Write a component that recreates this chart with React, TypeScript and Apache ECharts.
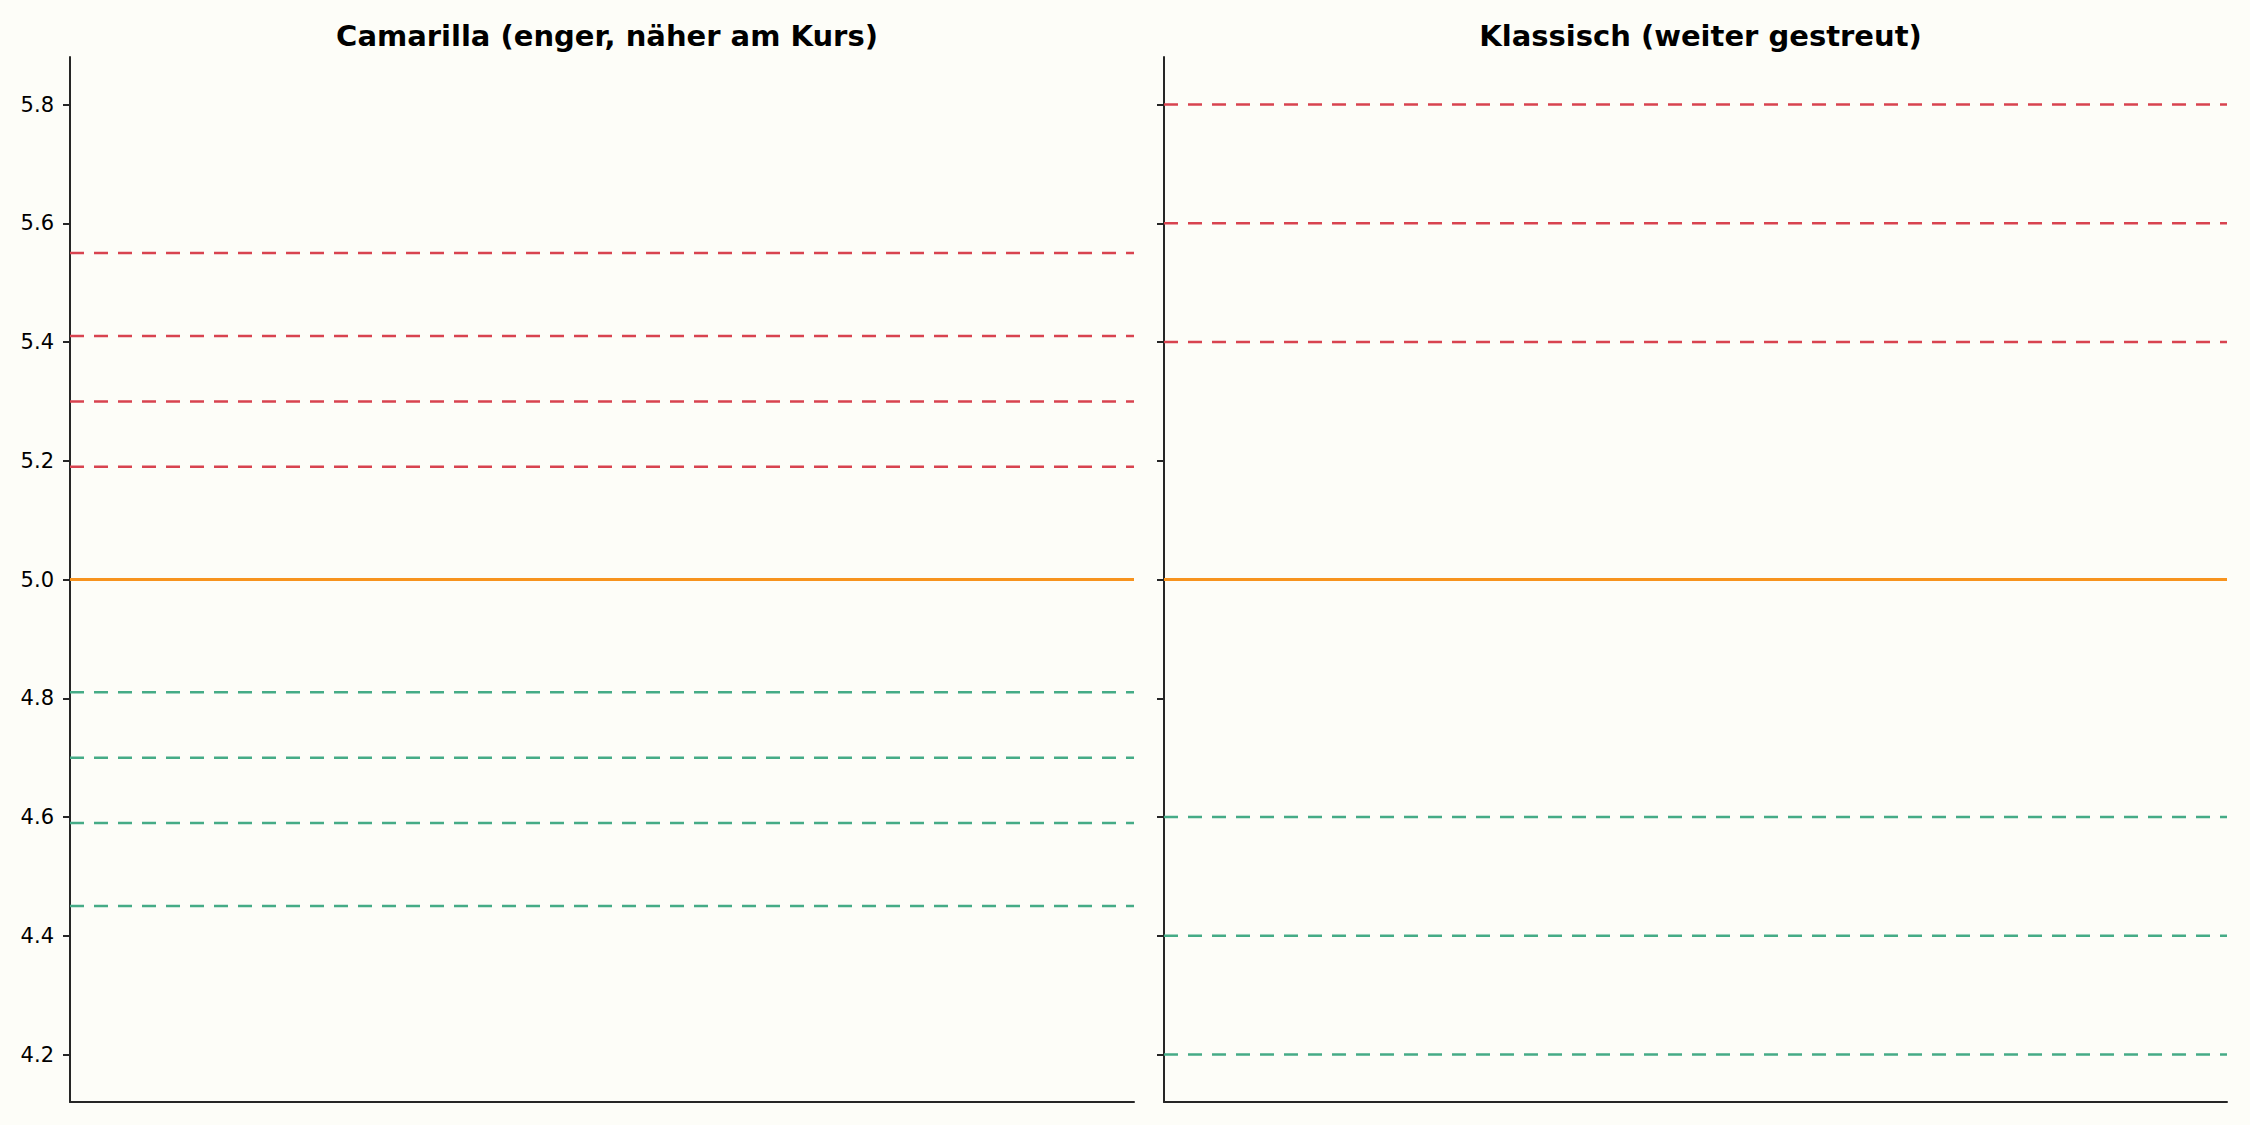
import * as echarts from 'echarts';
import { useEffect, useRef } from 'react';

const titles = ['Camarilla (enger, näher am Kurs)', 'Klassisch (weiter gestreut)'];
const yTicks = [4.2, 4.4, 4.6, 4.8, 5.0, 5.2, 5.4, 5.6, 5.8];

const pivot = 5.0;
const camResist = [5.19, 5.3, 5.41, 5.55];
const camSupport = [4.81, 4.7, 4.59, 4.45];
const clsResist = [5.4, 5.6, 5.8];
const clsSupport = [4.6, 4.4, 4.2];

const RED = '#d8434f';
const GREEN = '#45ab86';
const ORANGE = '#f7931e';
const AXIS = '#262626';

const levelSeries = (value: number, color: string, dashed: boolean, idx: number) => ({
  type: 'line' as const,
  xAxisIndex: idx,
  yAxisIndex: idx,
  data: [
    [0, value],
    [1, value],
  ],
  showSymbol: false,
  symbol: 'none',
  silent: true,
  lineStyle: { color, width: dashed ? 2.5 : 3, type: dashed ? [14, 10] : 'solid' },
});

export default function App() {
  const chartRef = useRef<HTMLDivElement>(null);

  useEffect(() => {
    if (!chartRef.current) return;
    const chart = echarts.init(chartRef.current, null, { renderer: 'svg' });

    const grids = [
      { left: 70, right: 2250 - 1134, top: 57, bottom: 23 },
      { left: 1164, right: 23, top: 57, bottom: 23 },
    ];

    const series: any[] = [];
    camResist.forEach(v => series.push(levelSeries(v, RED, true, 0)));
    series.push(levelSeries(pivot, ORANGE, false, 0));
    camSupport.forEach(v => series.push(levelSeries(v, GREEN, true, 0)));
    clsResist.forEach(v => series.push(levelSeries(v, RED, true, 1)));
    series.push(levelSeries(pivot, ORANGE, false, 1));
    clsSupport.forEach(v => series.push(levelSeries(v, GREEN, true, 1)));

    const option: any = {
      animation: false,
      backgroundColor: '#fdfdf8',
      title: titles.map((t, i) => ({
        text: t,
        left: i === 0 ? (70 + 1134) / 2 : (1164 + 2227) / 2,
        textAlign: 'center',
        top: 16,
        textStyle: {
          fontFamily: 'DejaVu Sans',
          fontWeight: 'bold',
          fontSize: 29,
          color: '#000',
        },
      })),
      grid: grids,
      xAxis: [0, 1].map(i => ({
        type: 'value',
        gridIndex: i,
        min: 0,
        max: 1,
        axisLine: { show: true, onZero: false, lineStyle: { color: AXIS, width: 2 } },
        axisTick: { show: false },
        axisLabel: { show: false },
        splitLine: { show: false },
      })),
      yAxis: [0, 1].map(i => ({
        type: 'value',
        gridIndex: i,
        min: 4.12,
        max: 5.88,
        axisLine: { show: true, onZero: false, lineStyle: { color: AXIS, width: 2 } },
        axisTick: {
          show: true,
          length: 7,
          customValues: yTicks,
          lineStyle: { color: AXIS, width: 2 },
        },
        axisLabel: {
          show: i === 0,
          customValues: yTicks,
          margin: 16,
          fontFamily: 'DejaVu Sans',
          fontSize: 21,
          color: '#000',
          formatter: (v: number) => v.toFixed(1),
        },
        splitLine: { show: false },
      })),
      series,
    };

    chart.setOption(option);
    const handleResize = () => chart.resize();
    window.addEventListener('resize', handleResize);
    return () => {
      window.removeEventListener('resize', handleResize);
      chart.dispose();
    };
  }, []);

  return (
    <div
      ref={chartRef}
      style={{ position: 'fixed', left: 0, top: 0, width: 2250, height: 1125 }}
    />
  );
}
